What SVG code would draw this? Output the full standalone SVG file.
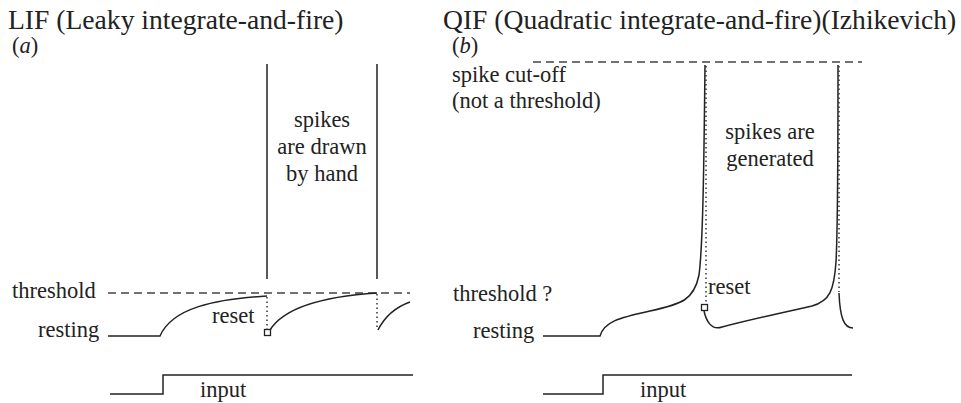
<svg xmlns="http://www.w3.org/2000/svg" width="961" height="403" viewBox="0 0 961 403">
<style>
text{font-family:"Liberation Serif","Times New Roman",serif;fill:#222}
.title{font-size:27.6px}
.lbl{font-size:22.5px}
.ln{fill:none;stroke:#222;stroke-width:1.5}
.dash{fill:none;stroke:#444;stroke-width:1.3;stroke-dasharray:8 5}
.dot{fill:none;stroke:#333;stroke-width:1.5;stroke-dasharray:1.5 3}
.sq{fill:#fff;stroke:#222;stroke-width:1.3}
</style>
<rect width="961" height="403" fill="#fff"/>
<g id="panel-a">
<text class="title" x="8" y="29">LIF (Leaky integrate-and-fire)</text>
<text class="lbl" x="12" y="53">(<tspan font-style="italic">a</tspan>)</text>
<text class="lbl" x="12" y="298">threshold</text>
<text class="lbl" x="38" y="337">resting</text>
<text class="lbl" x="212" y="323">reset</text>
<text class="lbl" x="200" y="397">input</text>
<text class="lbl" text-anchor="middle" x="322" y="127">spikes</text>
<text class="lbl" text-anchor="middle" x="322" y="154">are drawn</text>
<text class="lbl" text-anchor="middle" x="322" y="181">by hand</text>
<path class="dash" d="M108,293 H410"/>
<path class="ln" d="M267,64 V279 M377,64 V279"/>
<path class="ln" d="M108,336 H160 C172,308 215,299 267,296"/>
<path class="ln" d="M270,330 C285,306 330,296 377,293"/>
<path class="ln" d="M378,330 C385,316 396,307 410,302"/>
<path class="dot" d="M267,297 V329 M377,294 V328"/>
<rect class="sq" x="264.5" y="329.5" width="6" height="6"/>
<path class="ln" d="M110,394 H163 V375 H413"/>
</g>
<g id="panel-b">
<text class="title" x="443" y="29">QIF (Quadratic integrate-and-fire)(Izhikevich)</text>
<text class="lbl" x="452" y="53">(<tspan font-style="italic">b</tspan>)</text>
<text class="lbl" x="452" y="82">spike cut-off</text>
<text class="lbl" x="452" y="108">(not a threshold)</text>
<text class="lbl" text-anchor="middle" x="770" y="139">spikes are</text>
<text class="lbl" text-anchor="middle" x="770" y="166">generated</text>
<text class="lbl" x="453" y="301">threshold ?</text>
<text class="lbl" x="473" y="338">resting</text>
<text class="lbl" x="708" y="294">reset</text>
<text class="lbl" x="640" y="397">input</text>
<path class="dash" d="M533,62 H862"/>
<path class="ln" d="M543,336 H600 C604,322 618,318 650,311 C682,304 694,300 699,275 C703,245 704,160 705,65"/>
<path class="ln" d="M704,311 C706,320 711,331 722,327 C748,320 785,312 812,306 C830,301 834,290 836,262 C838,225 838,150 838,65"/>
<path class="ln" d="M839,293 C840,318 844,328 853,328"/>
<path class="dot" d="M706,66 V304 M839,66 V292"/>
<rect class="sq" x="701.5" y="304.5" width="6" height="6"/>
<path class="ln" d="M543,394 H603 V375 H852"/>
</g>
</svg>
